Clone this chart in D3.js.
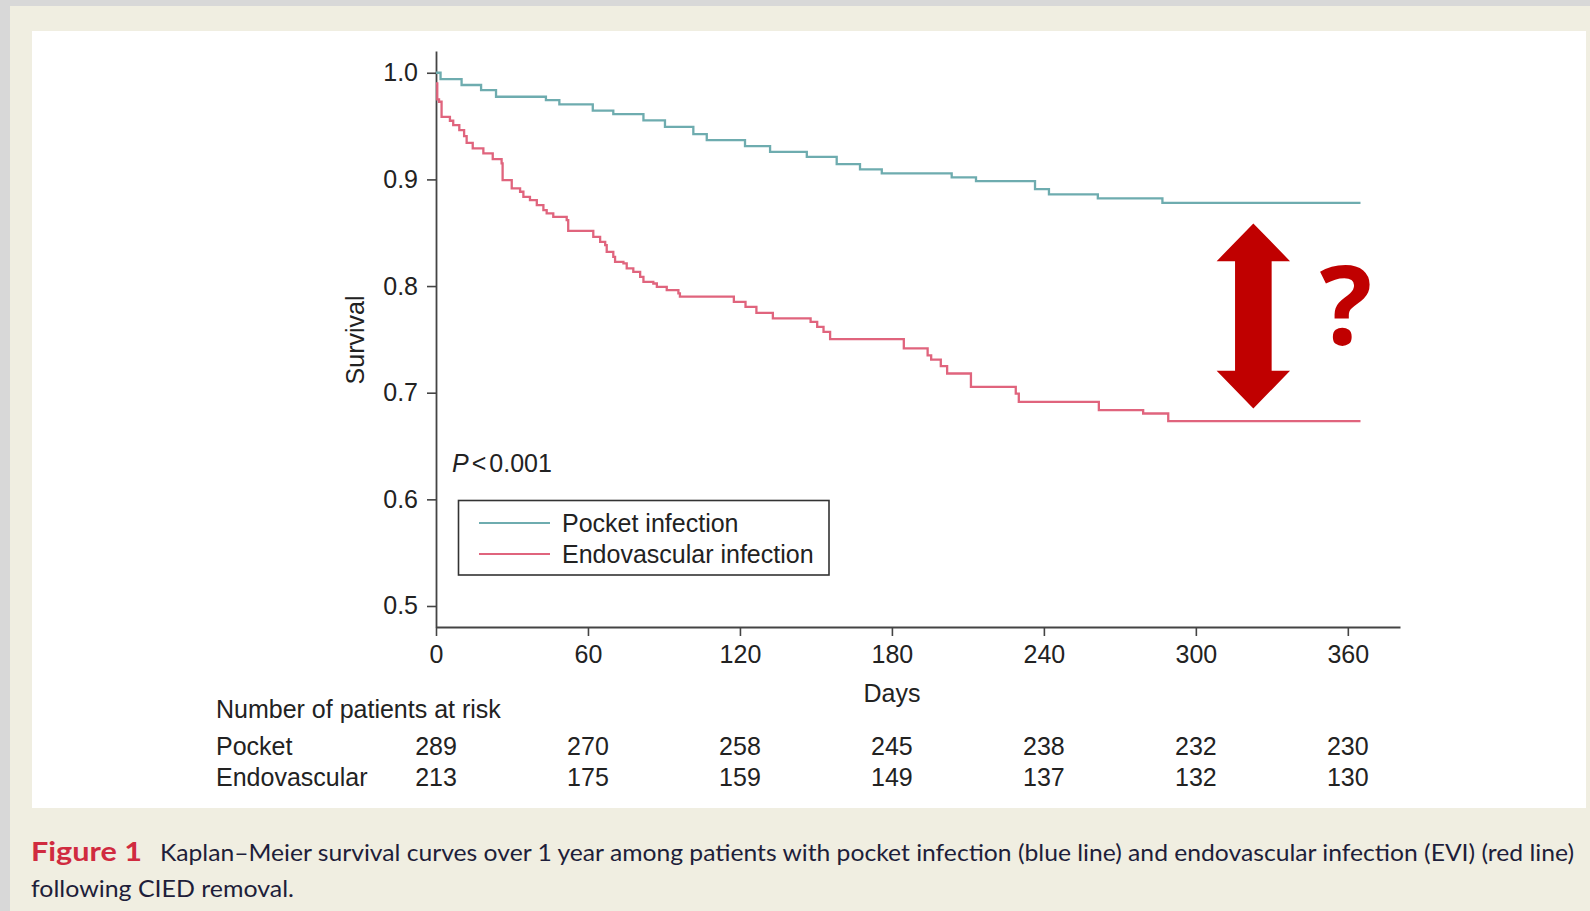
<!DOCTYPE html>
<html><head><meta charset="utf-8">
<script src="https://cdn.jsdelivr.net/npm/d3@7"></script>
<style>
html,body{margin:0;padding:0;background:#d8d8d8;}
svg{display:block}
</style></head><body>
<svg id="c" width="1590" height="911"></svg>
<script>
// ---- data ----
const xTickDays = [0, 60, 120, 180, 240, 300, 360];
const yTicks = [0.5, 0.6, 0.7, 0.8, 0.9, 1.0];
const seriesNames = ["Pocket infection", "Endovascular infection"];
const riskLabels = ["Pocket", "Endovascular"];
const riskPocket = [289, 270, 258, 245, 238, 232, 230];
const riskEndo = [213, 175, 159, 149, 137, 132, 130];

const pocketDays = [0, 1.8, 10.1, 17.8, 23.7, 43.4, 48.7, 61.9, 70.0, 81.9, 90.4, 101.6, 106.9, 122.0, 131.9, 146.4, 158.2, 167.4, 176.0, 203.6, 213.2, 236.5, 242.0, 261.3, 286.8, 365];
const pocketSurv = [1.0, 0.994, 0.9885, 0.9838, 0.9775, 0.9744, 0.9704, 0.9644, 0.9613, 0.9553, 0.9493, 0.9425, 0.9368, 0.9312, 0.9259, 0.9212, 0.9144, 0.9094, 0.9056, 0.9019, 0.8984, 0.8909, 0.8859, 0.8822, 0.878, 0.878];

const endoDays = [0, 0.5, 1.2, 2.2, 5.5, 6.8, 9.2, 11.1, 12.1, 14.5, 18.7, 22.4, 25.9, 26.3, 29.9, 33.2, 34.5, 37.1, 39.8, 42.4, 43.7, 46.3, 51.6, 52.2, 62.1, 64.8, 66.8, 67.4, 70.0, 70.7, 74.0, 75.3, 77.9, 80.6, 81.9, 85.8, 87.2, 91.1, 95.7, 96.3, 117.6, 122.2, 126.5, 133.0, 147.9, 150.5, 153.0, 155.6, 184.7, 194.1, 195.5, 199.3, 201.8, 211.2, 228.9, 230.1, 261.7, 279.2, 289.1, 365];
const endoSurv = [0.99, 0.975, 0.9728, 0.9587, 0.955, 0.9509, 0.9462, 0.9406, 0.9343, 0.9291, 0.9244, 0.919, 0.915, 0.8993, 0.8916, 0.8884, 0.8837, 0.8806, 0.8759, 0.8712, 0.8681, 0.8649, 0.8618, 0.8518, 0.8462, 0.8415, 0.8384, 0.8321, 0.8274, 0.8227, 0.8212, 0.8165, 0.8133, 0.8086, 0.8039, 0.8024, 0.7992, 0.7962, 0.7931, 0.7900, 0.7852, 0.7805, 0.7749, 0.7696, 0.7664, 0.7617, 0.757, 0.7502, 0.7415, 0.735, 0.7311, 0.7249, 0.718, 0.7054, 0.6992, 0.6914, 0.6836, 0.6805, 0.6733, 0.6733];

const arrowDay = 322.7, arrowTop = 0.8587, arrowBottom = 0.6852;
const pText = "0.001";
const captionHead = "Figure 1";
const captionLine1 = "Kaplan\u2013Meier survival curves over 1 year among patients with pocket infection (blue line) and endovascular infection (EVI) (red line)";
const captionLine2 = "following CIED removal.";

// ---- styles ----
const colPocket = "#6eacaf", colEndo = "#e0647d", axisCol = "#444";
const font = "'Liberation Sans', Arial, Helvetica, sans-serif";
const txtCol = "#222";

const svg = d3.select("#c");
// backgrounds
svg.append("rect").attr("x", 0).attr("y", 0).attr("width", 1590).attr("height", 911).attr("fill", "#d8d8d8");
svg.append("rect").attr("x", 10).attr("y", 6).attr("width", 1580).attr("height", 905).attr("fill", "#f0eee1");
svg.append("rect").attr("x", 32).attr("y", 31).attr("width", 1554).attr("height", 777).attr("fill", "#ffffff");

// scales
const x = d3.scaleLinear().domain([0, 380.6]).range([436, 1400]);
const y = d3.scaleLinear().domain([0.4803, 1.0204]).range([627, 51]);

// axes
const gy = svg.append("g").attr("transform", "translate(436,0)")
  .call(d3.axisLeft(y).tickValues(yTicks).tickSize(9).tickSizeOuter(0).tickPadding(9).tickFormat(d3.format(".1f")));
const gx = svg.append("g").attr("transform", "translate(0,627)")
  .call(d3.axisBottom(x).tickValues(xTickDays).tickSize(9).tickSizeOuter(0).tickPadding(9));
[gx, gy].forEach(g => {
  g.selectAll("path.domain").attr("stroke", axisCol).attr("stroke-width", 1.8);
  g.selectAll(".tick line").attr("stroke", axisCol).attr("stroke-width", 1.6);
  g.selectAll(".tick text").attr("fill", txtCol).style("font-family", font).style("font-size", "25px");
});

// curves
const line = d3.line().x(d => x(d[0])).y(d => y(d[1])).curve(d3.curveStepAfter);
const pocketPts = pocketDays.map((d, i) => [d, pocketSurv[i]]);
const endoPts = endoDays.map((d, i) => [d, endoSurv[i]]);
svg.append("path").attr("d", line(pocketPts)).attr("fill", "none").attr("stroke", colPocket).attr("stroke-width", 2.3);
svg.append("path").attr("d", line(endoPts)).attr("fill", "none").attr("stroke", colEndo).attr("stroke-width", 2.3);

// axis titles
svg.append("text").attr("x", x(180)).attr("y", 702).attr("text-anchor", "middle")
  .style("font-family", font).style("font-size", "25px").attr("fill", txtCol).text("Days");
svg.append("text").attr("transform", "translate(364,340) rotate(-90)").attr("text-anchor", "middle")
  .style("font-family", font).style("font-size", "25px").attr("fill", txtCol).text("Survival");

// P value
const pt = svg.append("text").attr("x", 452).attr("y", 472).style("font-family", font).style("font-size", "25px").attr("fill", txtCol);
pt.append("tspan").style("font-style", "italic").text("P");
pt.append("tspan").attr("dx", 3).text("<");
pt.append("tspan").attr("dx", 3).text(pText);

// legend
svg.append("rect").attr("x", 458.5).attr("y", 500.5).attr("width", 370.5).attr("height", 74.5)
  .attr("fill", "#fff").attr("stroke", "#333").attr("stroke-width", 1.6);
const legCols = [colPocket, colEndo];
seriesNames.forEach((n, i) => {
  const ly = 523 + i * 31;
  svg.append("line").attr("x1", 479).attr("x2", 550).attr("y1", ly).attr("y2", ly).attr("stroke", legCols[i]).attr("stroke-width", 2.2);
  svg.append("text").attr("x", 562).attr("y", ly + 9).style("font-family", font).style("font-size", "25px").attr("fill", txtCol).text(n);
});

// risk table
svg.append("text").attr("x", 216).attr("y", 718).style("font-family", font).style("font-size", "25px").attr("fill", txtCol).text("Number of patients at risk");
[riskPocket, riskEndo].forEach((arr, r) => {
  const by = 755 + r * 31;
  svg.append("text").attr("x", 216).attr("y", by).style("font-family", font).style("font-size", "25px").attr("fill", txtCol).text(riskLabels[r]);
  arr.forEach((v, i) => {
    svg.append("text").attr("x", x(xTickDays[i])).attr("y", by).attr("text-anchor", "middle")
      .style("font-family", font).style("font-size", "25px").attr("fill", txtCol).text(v);
  });
});

// annotation arrow
const ax = x(arrowDay), at = y(arrowTop), ab = y(arrowBottom);
const hw = 36.7, hh = 37.7, sw = 18.3;
const pts = [[ax, at], [ax + hw, at + hh], [ax + sw, at + hh], [ax + sw, ab - hh], [ax + hw, ab - hh], [ax, ab],
  [ax - hw, ab - hh], [ax - sw, ab - hh], [ax - sw, at + hh], [ax - hw, at + hh]];
svg.append("polygon").attr("points", pts.map(p => p.join(",")).join(" ")).attr("fill", "#c00000");
svg.append("text").attr("x", 1346).attr("y", 345).attr("text-anchor", "middle")
  .style("font-family", "'Open Sans', sans-serif").style("font-weight", "bold").style("font-size", "110px")
  .attr("fill", "#c00000").text("?");

// caption
const capFont = "Lato, 'Open Sans', sans-serif";
svg.append("text").attr("x", 31).attr("y", 861).attr("textLength", 111).attr("lengthAdjust", "spacingAndGlyphs")
  .style("font-family", capFont).style("font-weight", "bold").style("font-size", "27px").attr("fill", "#d02b3f").text(captionHead);
svg.append("text").attr("x", 160).attr("y", 861).attr("textLength", 1414).attr("lengthAdjust", "spacingAndGlyphs")
  .style("font-family", capFont).style("font-size", "24px").attr("fill", "#1e1e3a").text(captionLine1);
svg.append("text").attr("x", 31).attr("y", 897).attr("textLength", 263).attr("lengthAdjust", "spacingAndGlyphs")
  .style("font-family", capFont).style("font-size", "24px").attr("fill", "#1e1e3a").text(captionLine2);
</script>
</body></html>
